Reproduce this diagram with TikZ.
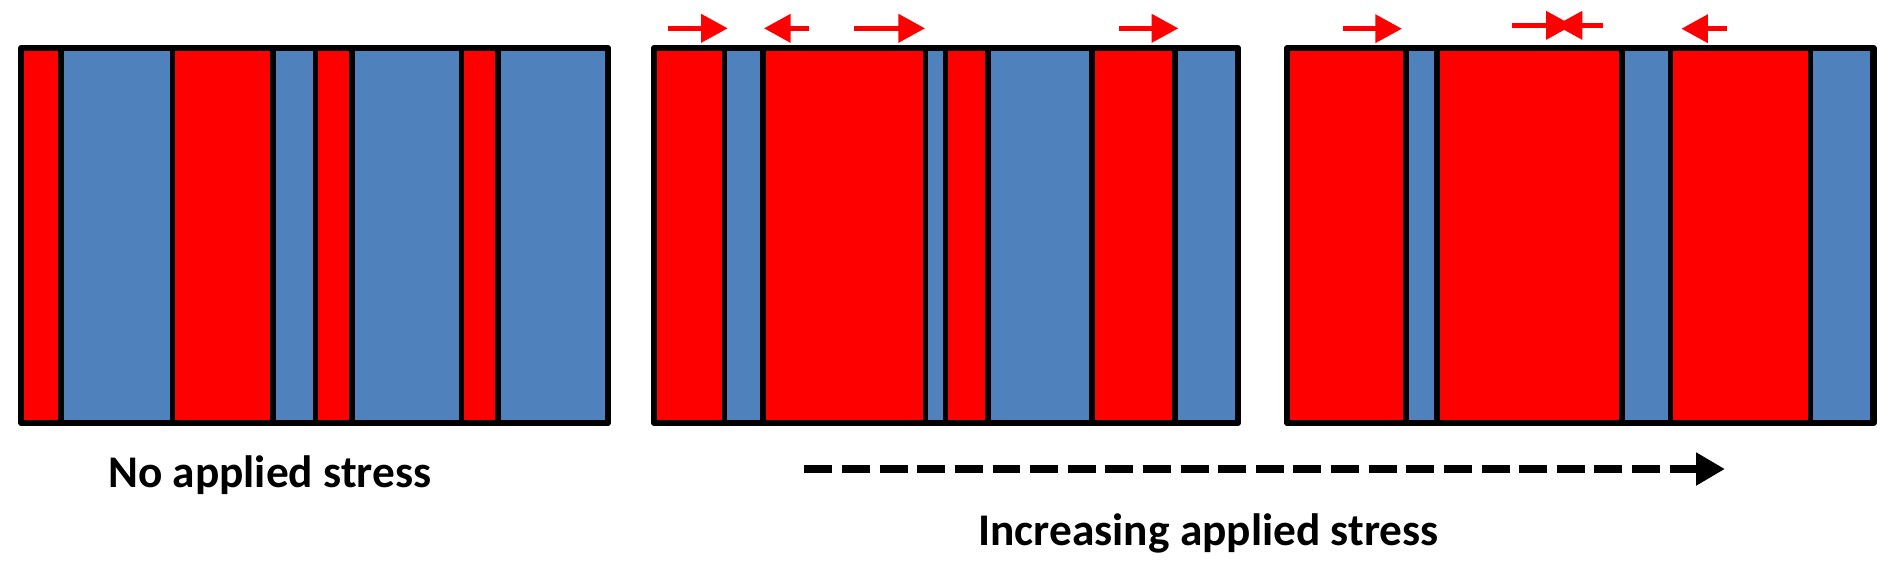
\documentclass[tikz,border=0pt]{standalone}
\usepackage{fontspec}
\setmainfont{Carlito}
\usetikzlibrary{arrows.meta}
\definecolor{barred}{RGB}{255,0,0}
\definecolor{barblue}{RGB}{79,129,189}
\begin{document}
\begin{tikzpicture}[x=0.02cm,y=-0.02cm,
  frame/.style={draw=black,line width=0.105cm,line join=round},
  divider/.style={draw=black,line width=0.09cm},
  stressarrow/.style={draw=barred,line width=0.075cm,-{Triangle[length=0.44cm,width=0.46cm,fill=barred]}},
  trendarrow/.style={draw=black,line width=0.14cm,line cap=butt,dash pattern=on 0.464cm off 0.16cm,-{Triangle[length=0.48cm,width=0.52cm,fill=black]}},
  caption/.style={anchor=base west,inner sep=0pt,font=\fontsize{21.4pt}{25pt}\selectfont\bfseries}]
\useasboundingbox (0,0) rectangle (1568,473);
\def\ytop{39.8}
\def\ybot{350.7}
% panel 1: no applied stress
\foreach \a/\b/\c in {17.6/50.7/barred,50.7/143/barblue,143/226.3/barred,226.3/261.5/barblue,261.5/291.7/barred,291.7/382.9/barblue,382.9/413.1/barred,413.1/504/barblue}
  \fill[\c] (\a,\ytop) rectangle (\b,\ybot);
\foreach \x in {50.7,143,226.3,261.5,291.7,382.9,413.1}
  \draw[divider] (\x,\ytop) -- (\x,\ybot);
\draw[frame] (17.6,\ytop) rectangle (504,\ybot);
% panel 2
\foreach \a/\b/\c in {542.4/600.6/barred,600.6/632.8/barblue,632.8/767.6/barred,767.6/784.2/barblue,784.2/819.3/barred,819.3/905.4/barblue,905.4/974.3/barred,974.3/1026.5/barblue}
  \fill[\c] (\a,\ytop) rectangle (\b,\ybot);
\foreach \x in {600.6,632.8,767.6,784.2,819.3,905.4,974.3}
  \draw[divider] (\x,\ytop) -- (\x,\ybot);
\draw[frame] (542.4,\ytop) rectangle (1026.5,\ybot);
% panel 3
\foreach \a/\b/\c in {1067.4/1165.7/barred,1165.7/1191.4/barblue,1191.4/1345.1/barred,1345.1/1385.2/barblue,1385.2/1501.2/barred,1501.2/1553.5/barblue}
  \fill[\c] (\a,\ytop) rectangle (\b,\ybot);
\foreach \x in {1165.7,1191.4,1345.1,1385.2,1501.2}
  \draw[divider] (\x,\ytop) -- (\x,\ybot);
\draw[frame] (1067.4,\ytop) rectangle (1553.5,\ybot);
% boundary motion arrows
\coordinate (a1s) at (554.2,23.5);  \coordinate (a1e) at (603.4,23.5);
\coordinate (a2s) at (670.8,23.5);  \coordinate (a2e) at (633.5,23.5);
\coordinate (a3s) at (708.3,23.5);  \coordinate (a3e) at (767.0,23.5);
\coordinate (a4s) at (928.0,23.5);  \coordinate (a4e) at (977.0,23.5);
\coordinate (b1s) at (1113.4,23.8); \coordinate (b1e) at (1162.4,23.8);
\coordinate (b2s) at (1254.0,21.0); \coordinate (b2e) at (1304.0,21.0);
\coordinate (b3s) at (1329.0,21.0); \coordinate (b3e) at (1290.0,21.0);
\coordinate (b4s) at (1431.9,23.8); \coordinate (b4e) at (1394.2,23.8);
\foreach \s/\e in {a1s/a1e,a2s/a2e,a3s/a3e,a4s/a4e,b1s/b1e,b2s/b2e,b3s/b3e,b4s/b4e}
  \draw[stressarrow] (\s) -- (\e);
% increasing stress arrow
\coordinate (ts) at (667,388.9);
\coordinate (te) at (1430.3,388.9);
\draw[trendarrow] (ts) -- (te);
% captions
\node[caption] (nostress) at (89.3,404) {No applied stress};
\node[caption] (incstress) at (811,452) {Increasing applied stress};
\end{tikzpicture}
\end{document}
